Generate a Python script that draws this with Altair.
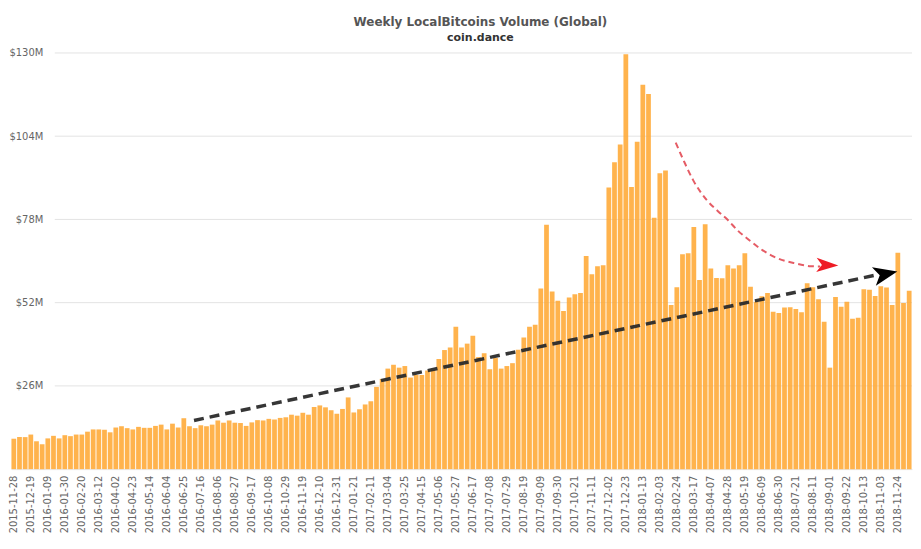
import altair as alt
import pandas as pd

# ---- data ----
weeks = [d.strftime('%Y-%m-%d') for d in pd.date_range('2015-11-28', periods=159, freq='7D')]

volume_musd = [
    9.5, 10.0, 10.0, 10.8, 8.7, 7.8, 9.6, 10.4, 9.6, 10.6,
    10.3, 10.8, 10.8, 11.7, 12.4, 12.4, 12.3, 11.5, 13.0, 13.4,
    12.8, 12.4, 13.2, 12.9, 12.9, 13.5, 13.9, 12.4, 14.2, 13.0,
    15.9, 13.4, 12.8, 13.7, 13.4, 13.9, 15.2, 14.5, 15.2, 14.5,
    14.4, 13.5, 14.6, 15.3, 15.2, 15.7, 15.5, 16.0, 16.2, 17.0,
    16.7, 17.6, 17.0, 19.4, 19.9, 19.3, 18.4, 17.3, 18.8, 22.4,
    17.7, 18.7, 20.2, 21.2, 25.7, 28.2, 31.4, 32.6, 31.7, 32.2,
    28.6, 29.4, 29.4, 30.8, 31.0, 34.4, 37.2, 38.0, 44.5, 38.0,
    39.2, 41.7, 35.0, 36.2, 31.2, 34.7, 31.4, 32.2, 33.1, 37.3,
    41.1, 44.5, 45.1, 56.4, 76.3, 55.5, 52.6, 49.4, 53.6, 54.6,
    55.0, 66.6, 60.9, 63.4, 63.7, 88.0, 95.9, 101.4, 129.6, 88.1,
    102.3, 120.1, 117.2, 78.5, 92.4, 93.3, 51.3, 56.8, 67.1, 67.4,
    75.6, 59.1, 76.5, 62.7, 59.7, 59.6, 63.7, 62.7, 63.7, 67.4,
    57.0, 52.3, 54.0, 55.0, 49.2, 48.8, 50.5, 50.6, 50.0, 49.0,
    58.1, 56.8, 53.1, 46.0, 31.7, 53.8, 50.7, 52.3, 47.0, 47.3,
    56.2, 56.0, 54.1, 57.1, 56.7, 51.3, 67.6, 51.9, 55.7,
]

y_ticks = [26, 52, 78, 104, 130]
x_label_weeks = weeks[::3]

# annotation: black dashed trend arrow (bar index, $M)
trend_idx = [31.8, 152.1]
trend_val = [15.2, 60.6]
trend_tip_idx = [155.9]
trend_tip_val = [61.7]

# annotation: red dashed curved arrow (bar index, $M)
curve_idx = [116.8, 118.2, 119.9, 122.3, 124.3, 126.0, 127.7, 129.8, 132.1, 134.7, 137.6, 140.6, 142.3]
curve_val = [102.0, 96.4, 90.2, 84.0, 80.5, 77.8, 74.6, 71.5, 68.4, 65.9, 64.4, 63.4, 63.3]
curve_tip_idx = [145.5]
curve_tip_val = [63.6]

# ---- chart ----
W, H = 905, 418
n = len(weeks)
FONT = 'DejaVu Sans'

bars_df = pd.DataFrame({'week': weeks, 'vol': volume_musd})

yscale = alt.Scale(domain=[0, 130], nice=False)
yaxis = alt.Axis(values=y_ticks, labelExpr="'$' + datum.value + 'M'", grid=False,
                 ticks=False, tickSize=0, domain=False, labelPadding=-32,
                 labelFont=FONT, labelFontSize=10, labelColor='#666', title=None)
xq = alt.Scale(domain=[-0.5, n - 0.5], nice=False, zero=False)

grid = alt.Chart(pd.DataFrame({'v': y_ticks})).mark_rule(color='#e3e3e3', strokeWidth=1).encode(
    y=alt.Y('v:Q', scale=yscale, axis=yaxis),
    x=alt.value(44), x2=alt.value(W),
)

bars = alt.Chart(bars_df).mark_bar(color='#ffa630', opacity=0.86).encode(
    x=alt.X('week:O', sort=None,
            scale=alt.Scale(paddingInner=0.16, paddingOuter=0.08),
            axis=alt.Axis(values=x_label_weeks, labelAngle=-90, ticks=False, tickSize=0,
                          labelPadding=6, domain=True, domainColor='#e6e6e6',
                          labelFont=FONT, labelFontSize=10, labelColor='#666',
                          labelOverlap=False, title=None, grid=False)),
    y=alt.Y('vol:Q', scale=yscale, axis=yaxis),
)

trend_line = alt.Chart(pd.DataFrame({'i': trend_idx, 'v': trend_val})).mark_line(
    color='#2b2b2b', strokeWidth=3.5, strokeDash=[10, 6], opacity=0.95).encode(
    x=alt.X('i:Q', scale=xq, axis=None),
    y=alt.Y('v:Q', scale=yscale, axis=yaxis),
)

arrow_path = 'M0,0L-2,-0.8L-1.5,0L-2,0.8Z'
trend_head = alt.Chart(pd.DataFrame({'i': trend_tip_idx, 'v': trend_tip_val})).mark_point(
    shape=arrow_path, size=576, filled=True, color='#000000', opacity=1, angle=348.2).encode(
    x=alt.X('i:Q', scale=xq, axis=None),
    y=alt.Y('v:Q', scale=yscale, axis=yaxis),
)

curve_line = alt.Chart(pd.DataFrame({'i': curve_idx, 'v': curve_val})).mark_line(
    color='#e0404a', strokeWidth=2, strokeDash=[6, 4], opacity=0.85, interpolate='monotone').encode(
    x=alt.X('i:Q', scale=xq, axis=None),
    y=alt.Y('v:Q', scale=yscale, axis=yaxis),
)

curve_head = alt.Chart(pd.DataFrame({'i': curve_tip_idx, 'v': curve_tip_val})).mark_point(
    shape='M0,0L-2,-0.65L-1.5,0L-2,0.65Z', size=484, filled=True, color='#ee1c25', opacity=1, angle=2).encode(
    x=alt.X('i:Q', scale=xq, axis=None),
    y=alt.Y('v:Q', scale=yscale, axis=yaxis),
)

chart = alt.layer(grid, bars, trend_line, trend_head, curve_line, curve_head).resolve_scale(
    x='independent'
).properties(
    width=W, height=H,
    padding={'left': 0, 'top': 7, 'right': 0, 'bottom': 0},
    background='white',
    title=alt.TitleParams(
        text='Weekly LocalBitcoins Volume (Global)', subtitle='coin.dance',
        anchor='middle', dx=19, offset=4,
        font=FONT, fontSize=12, fontWeight='bold', color='#555555',
        subtitleFont=FONT, subtitleFontSize=11, subtitleFontWeight='bold',
        subtitleColor='#333333', subtitlePadding=3,
    ),
).configure_view(stroke=None)

chart.save('out.html', embed_options={'renderer': 'svg', 'actions': False})
